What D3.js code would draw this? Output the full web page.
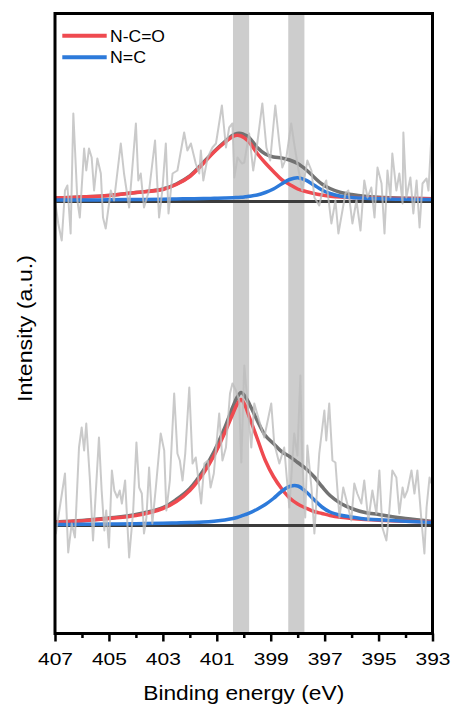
<!DOCTYPE html>
<html>
<head>
<meta charset="utf-8">
<script src="https://cdn.jsdelivr.net/npm/d3@7"></script>
<style>
  body { margin: 0; background: #fff; }
  svg { display: block; font-family: "Liberation Sans", Arial, sans-serif; }
</style>
</head>
<body>
<div id="chart"></div>
<script>
// x axis
const majorTicks = [407, 405, 403, 401, 399, 397, 395, 393];
const minorTicks = [406, 404, 402, 400, 398, 396, 394];

// highlighted binding energies (eV) and band width
const bandCenters = [400.1, 398.05];
const bandWidth = 0.6;

// vertical stacking of the two spectra (a.u.)
const spectrumOffsets = [324, 0];  // top, bottom

// energies where the fitted curves were read
const fitE = [407, 406, 405, 404, 403, 402.5, 402, 401.5, 401.1, 400.7, 400.4, 400.25, 400.1, 399.95, 399.8, 399.5,
  399.2, 398.9, 398.6, 398.3, 398, 397.7, 397.4, 397.1, 396.8, 396.4, 396, 395.5, 395, 394, 393];

// top spectrum fits
const topNCO = [3.5, 4.5, 6, 9, 12, 17, 25, 38, 49.5, 59, 65, 66.3, 65.5, 63, 59.5, 48,
  38.5, 30, 22, 17, 12.5, 10, 8, 6.5, 5.3, 4.4, 4, 3.6, 3.3, 3, 2.7];
const topNC = [1.5, 1.5, 1.7, 2, 2.3, 2.5, 2.8, 3, 3.2, 3.5, 3.8, 4, 4.2, 4.7, 5.3, 6.5,
  9, 12.5, 17.5, 22, 23.8, 21.3, 16.5, 11.5, 8, 5.2, 4, 3.3, 2.8, 2.2, 2];
const topEnv = [3.5, 4.5, 6, 9, 12.5, 17.5, 25.5, 39, 50, 60, 66.5, 68, 68, 66.5, 64, 54,
  47.5, 44.5, 43.5, 41.5, 38, 32, 24.5, 17.5, 13, 9, 7, 5.3, 4.3, 3.3, 2.8];

// bottom spectrum fits
const botNCO = [3.3, 4.5, 7, 10, 17, 24, 35, 52, 70, 93, 112, 121, 126, 120, 109, 87,
  65, 49, 37, 27.5, 21.5, 17.5, 14, 12, 10, 8.2, 7, 6, 5.3, 4.3, 3.7];
const botNC = [1, 1.2, 1.5, 1.8, 2.2, 2.6, 3, 3.5, 4.3, 5.5, 7, 8, 9.3, 10.8, 12.3, 16.3,
  21, 27, 34, 39, 39.5, 34, 26, 18.5, 13.5, 10.3, 8.5, 6.5, 5.8, 4.3, 3];
const botEnv = [3.5, 5, 7.5, 11, 18, 26, 37, 55, 74, 98, 119, 128, 133, 129, 122, 105,
  90, 82, 74, 69, 63, 57, 49, 39, 30, 22, 17, 13, 11, 7, 4];

// raw counts [eV, intensity]
const topRaw = [[407.00, 1], [406.88, -22], [406.75, -39], [406.63, 11], [406.54, 16], [406.42, -32],
  [406.32, 88], [406.17, 1], [406.08, -16], [405.92, 53], [405.84, 31], [405.74, 53], [405.64, 44],
  [405.55, 11], [405.43, 43], [405.30, 28], [405.22, -16], [405.12, -27], [404.93, 11], [404.81, 1],
  [404.56, 58], [404.44, 28], [404.25, -6], [404.00, 78], [403.91, 21], [403.82, 28], [403.70, -6],
  [403.51, 11], [403.29, 61], [403.14, -16], [403.02, 11], [402.89, 58], [402.79, -12], [402.64, 28],
  [402.46, 31], [402.21, 69], [402.09, 51], [401.96, 58], [401.78, 38], [401.65, 28], [401.59, 51],
  [401.50, 21], [401.34, 44], [401.16, 54], [401.03, 58], [400.81, 96], [400.66, 54], [400.54, 74],
  [400.42, 78], [400.35, 24], [400.23, 44], [400.07, 38], [399.98, 39], [399.80, 68], [399.65, 31],
  [399.50, 58], [399.31, 98], [399.16, 54], [399.02, 41], [398.83, 96], [398.68, 58], [398.57, 34],
  [398.42, 44], [398.24, 78], [398.13, 58], [398.01, 38], [397.83, 11], [397.64, 41], [397.49, 31],
  [397.38, 4], [397.20, -4], [397.05, 14], [396.94, 21], [396.75, -22], [396.60, 1], [396.49, -32],
  [396.34, -9], [396.23, 8], [396.12, 11], [395.97, -22], [395.82, 1], [395.67, -29], [395.53, 21],
  [395.41, 4], [395.27, 14], [395.15, -16], [395.04, 34], [394.89, 18], [394.78, -32], [394.67, 31],
  [394.56, 4], [394.49, 48], [394.34, 11], [394.23, 28], [394.11, -2], [394.08, 69], [393.97, 4],
  [393.82, 24], [393.71, -12], [393.59, 21], [393.48, -26], [393.37, 18], [393.22, 23], [393.15, 11],
  [393.00, 85]];
const botRaw = [[407.00, -5], [406.97, -8], [406.63, 52], [406.51, -27], [406.38, 2], [406.26, -12],
  [406.11, 78], [406.01, 98], [405.92, 75], [405.84, 102], [405.71, 48], [405.59, -15], [405.37, 88],
  [405.27, 35], [405.17, -5], [405.10, 15], [405.00, -22], [404.89, 55], [404.80, 35], [404.69, 28],
  [404.60, 35], [404.52, 22], [404.40, 45], [404.25, -32], [404.10, 15], [403.98, 83], [403.88, 38],
  [403.78, 32], [403.70, -8], [403.61, 8], [403.51, 58], [403.39, 2], [403.26, 38], [403.08, 92],
  [402.95, 75], [402.87, 15], [402.74, 45], [402.58, 132], [402.46, 72], [402.37, 65], [402.27, 45],
  [402.17, 72], [402.02, 138], [401.90, 62], [401.78, 68], [401.68, 45], [401.58, 22], [401.46, 62],
  [401.33, 65], [401.23, 38], [401.11, 52], [400.91, 112], [400.79, 65], [400.66, 78], [400.51, 132],
  [400.42, 142], [400.29, 135], [400.17, 125], [400.09, 63], [399.98, 160], [399.72, 78], [399.61, 122],
  [399.43, 105], [399.24, 88], [398.98, 122], [398.87, 82], [398.68, 62], [398.50, 78], [398.31, 18],
  [398.13, 92], [398.01, 70], [397.90, 150], [397.83, 65], [397.72, 8], [397.64, 80], [397.49, 38],
  [397.38, -8], [397.20, 72], [397.01, 115], [396.94, 85], [396.83, 122], [396.71, 65], [396.60, 63],
  [396.45, 8], [396.31, 38], [396.19, 25], [396.01, 5], [395.90, 42], [395.79, 32], [395.64, 22],
  [395.53, 45], [395.38, 5], [395.23, 35], [395.08, 12], [394.97, 55], [394.86, -2], [394.71, -15],
  [394.60, 15], [394.49, 55], [394.34, 48], [394.23, 12], [394.11, 38], [394.04, 28], [393.93, 35],
  [393.78, 55], [393.67, 32], [393.56, 55], [393.41, 5], [393.30, -28], [393.22, 18], [393.11, 48],
  [393.04, 42]];

const legendNames = ["N-C=O", "N=C"];
const red = "#ef4a50", blue = "#2d7ada";

const margin = {top: 13.5, right: 23.5, bottom: 74.5, left: 55},
  width = 456 - margin.left - margin.right,
  height = 708 - margin.top - margin.bottom;

const svg = d3.select("#chart")
  .append("svg")
    .attr("width", 456)
    .attr("height", 708)
  .append("g")
    .attr("transform", `translate(${margin.left}, ${margin.top})`);

const x = d3.scaleLinear().domain([407, 393]).range([0, width]);
const y = d3.scaleLinear().domain([-108, 512]).range([height, 0]);

svg.append("clipPath").attr("id", "plotclip")
  .append("rect").attr("width", width).attr("height", height);

const plot = svg.append("g").attr("clip-path", "url(#plotclip)");

// grey bands
plot.selectAll("rect.band")
  .data(bandCenters)
  .join("rect")
    .attr("class", "band")
    .attr("x", d => x(d + bandWidth / 2))
    .attr("width", d => x(d - bandWidth / 2) - x(d + bandWidth / 2))
    .attr("y", 0)
    .attr("height", height)
    .style("fill", "#cdcdcd");

const fitLine = off => d3.line()
  .x((d, i) => x(fitE[i]))
  .y(d => y(d + off))
  .curve(d3.curveCatmullRom.alpha(0.5));

const rawLine = off => d3.line()
  .x(d => x(d[0]))
  .y(d => y(d[1] + off));

const spectra = [
  {off: spectrumOffsets[0], nco: topNCO, nc: topNC, env: topEnv, raw: topRaw},
  {off: spectrumOffsets[1], nco: botNCO, nc: botNC, env: botEnv, raw: botRaw}
];

spectra.forEach(s => {
  // baseline
  plot.append("line")
    .attr("x1", x(407)).attr("x2", x(393))
    .attr("y1", y(s.off)).attr("y2", y(s.off))
    .style("stroke", "#3c3c3c")
    .style("stroke-width", 3);
  plot.append("path")
    .attr("d", fitLine(s.off)(s.env))
    .style("fill", "none")
    .style("stroke", "#727272")
    .style("stroke-width", 3.5);
  plot.append("path")
    .attr("d", fitLine(s.off)(s.nco))
    .style("fill", "none")
    .style("stroke", red)
    .style("stroke-width", 3.5);
  plot.append("path")
    .attr("d", fitLine(s.off)(s.nc))
    .style("fill", "none")
    .style("stroke", blue)
    .style("stroke-width", 3.5);
  plot.append("path")
    .attr("d", rawLine(s.off)(s.raw))
    .style("fill", "none")
    .style("stroke", "#bdbdbd")
    .style("stroke-opacity", 0.8)
    .style("stroke-width", 2)
    .style("stroke-linejoin", "round");
});

// x axis
const axisMajor = svg.append("g")
  .attr("transform", `translate(0, ${height})`)
  .call(d3.axisBottom(x).tickValues(majorTicks).tickSize(8).tickFormat(d3.format("d")));
axisMajor.select(".domain").remove();
axisMajor.selectAll("line").style("stroke", "#000").style("stroke-width", 2.5);
axisMajor.selectAll("text")
  .attr("y", 31.5)
  .attr("dy", null)
  .attr("textLength", 35)
  .attr("lengthAdjust", "spacingAndGlyphs")
  .style("font-family", "'Liberation Sans', Arial, sans-serif")
  .style("font-size", "17px")
  .style("fill", "#000");

const axisMinor = svg.append("g")
  .attr("transform", `translate(0, ${height})`)
  .call(d3.axisBottom(x).tickValues(minorTicks).tickSize(4.5).tickFormat(""));
axisMinor.select(".domain").remove();
axisMinor.selectAll("line").style("stroke", "#000").style("stroke-width", 2.5);

// frame
svg.append("rect")
  .attr("width", width)
  .attr("height", height)
  .style("fill", "none")
  .style("stroke", "#000")
  .style("stroke-width", 3);

// axis titles
svg.append("text")
  .attr("x", width / 2)
  .attr("y", 700 - margin.top)
  .attr("text-anchor", "middle")
  .attr("textLength", 201)
  .attr("lengthAdjust", "spacingAndGlyphs")
  .style("font-size", "19.5px")
  .text("Binding energy (eV)");

svg.append("text")
  .attr("transform", `translate(${31.5 - margin.left}, ${328.5 - margin.top}) rotate(-90)`)
  .attr("text-anchor", "middle")
  .attr("textLength", 147)
  .attr("lengthAdjust", "spacingAndGlyphs")
  .style("font-size", "20px")
  .text("Intensity (a.u.)");

// legend
const legend = svg.append("g")
  .selectAll("g")
  .data(legendNames)
  .join("g")
    .attr("transform", (d, i) => `translate(0, ${22.2 + i * 21.6})`);
legend.append("line")
  .attr("x1", 7.3).attr("x2", 51.7)
  .style("stroke", (d, i) => i == 0 ? red : blue)
  .style("stroke-width", 4);
legend.append("text")
  .attr("x", 55)
  .attr("y", 5.8)
  .attr("textLength", (d, i) => i == 0 ? 55 : 36)
  .attr("lengthAdjust", "spacingAndGlyphs")
  .style("font-size", "16px")
  .text(d => d);
</script>
</body>
</html>
